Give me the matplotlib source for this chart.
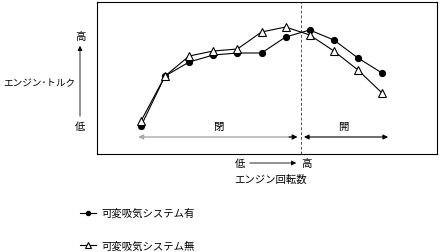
import matplotlib
matplotlib.use("Agg")
from matplotlib import pyplot as plt

plt.rcParams['font.family'] = ['Noto Sans CJK JP', 'DejaVu Sans']

# engine speed steps (arbitrary units, low -> high)
rpm_steps = [0, 1, 2, 3, 4, 5, 6, 7, 8, 9, 10]
# torque (arbitrary units)
torque_with = [28, 78, 92, 99, 101, 101, 117, 124, 114, 96, 81]
torque_without = [33, 78, 98, 103, 105, 122, 127, 119, 103, 84, 61]
switch_pos = 6.64

label_with = "可変吸気システム有"
label_without = "可変吸気システム無"

fig = plt.figure(figsize=(4.42, 2.53), dpi=100)
W, H = 442, 253
ax = fig.add_axes([97 / W, 1 - 155 / H, 340 / W, 152 / H])

ax.plot(rpm_steps, torque_with, color='black', lw=0.8, marker='o',
        ms=4.2, mfc='black', mec='black', label=label_with, zorder=3)
ax.plot(rpm_steps, torque_without, color='black', lw=0.8, marker='^',
        ms=5.5, mfc='white', mec='black', mew=0.8, label=label_without, zorder=4)

ax.axvline(switch_pos, color='#555555', lw=0.7, ls=(0, (3, 2)))

ax.set_xlim(-1.826, 12.28)
ax.set_ylim(0, 152)
ax.set_xticks([])
ax.set_yticks([])
for sp in ax.spines.values():
    sp.set_linewidth(0.8)

fs = 7.5
# valve state arrows
ax.annotate('', xy=(-0.12, 17), xytext=(switch_pos - 0.15, 17),
            arrowprops=dict(arrowstyle='<|-|>', color='#aaaaaa', lw=1.0,
                            mutation_scale=7, shrinkA=0, shrinkB=0))
ax.annotate('', xy=(switch_pos - 0.15, 17), xytext=(switch_pos - 0.5, 17),
            arrowprops=dict(arrowstyle='-|>', color='black', lw=0.8,
                            mutation_scale=7, shrinkA=0, shrinkB=0))
ax.annotate('', xy=(switch_pos + 0.12, 17), xytext=(10.25, 17),
            arrowprops=dict(arrowstyle='<|-|>', color='black', lw=0.8,
                            mutation_scale=7, shrinkA=0, shrinkB=0))
ax.text(3.2, 28, "閉", fontsize=fs, ha='center', va='center')
ax.text(8.4, 28, "開", fontsize=fs, ha='center', va='center')

# y axis description
fig.text(80 / W, 1 - 37 / H, "高", fontsize=fs, ha='center', va='center')
fig.text(80 / W, 1 - 127 / H, "低", fontsize=fs, ha='center', va='center')
fig.text(3 / W, 1 - 84 / H, "エンジン･トルク", fontsize=6.9, ha='left', va='center')
fig.add_artist(matplotlib.patches.FancyArrowPatch(
    (80 / W, 1 - 120 / H), (80 / W, 1 - 44 / H), transform=fig.transFigure,
    arrowstyle='-|>', mutation_scale=7, lw=0.6, color='black'))

# x axis description
fig.text(240 / W, 1 - 164 / H, "低", fontsize=fs, ha='center', va='center')
fig.text(306 / W, 1 - 164 / H, "高", fontsize=fs, ha='center', va='center')
fig.add_artist(matplotlib.patches.FancyArrowPatch(
    (247 / W, 1 - 164 / H), (299 / W, 1 - 164 / H), transform=fig.transFigure,
    arrowstyle='-|>', mutation_scale=7, lw=0.6, color='black'))
fig.text(270 / W, 1 - 180 / H, "エンジン回転数", fontsize=fs, ha='center', va='center')

fig.legend(loc='upper left', bbox_to_anchor=(80 / W, 1 - 209 / H), frameon=False,
           fontsize=fs, handlelength=1.5, handletextpad=0.6, labelspacing=2.1,
           borderaxespad=0, borderpad=0, markerscale=0.7)

fig.savefig("out.png", dpi=100)
